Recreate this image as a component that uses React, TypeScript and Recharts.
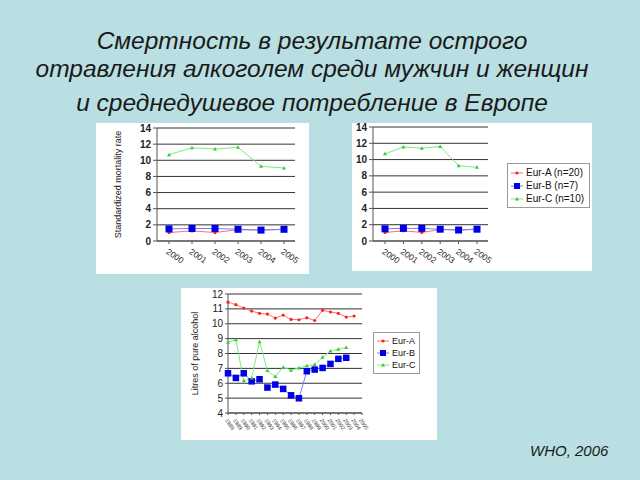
import { LineChart, Line, XAxis, YAxis, CartesianGrid, Legend } from 'recharts';

const BG = '#b9dfe3';
const FONT = '"Liberation Sans", Arial, sans-serif';

const titleLines = [
  'Смертность в результате острого',
  'отравления алкоголем среди мужчин и женщин',
  'и среднедушевое потребление в Европе',
];

const mortalityYears = ['2000', '2001', '2002', '2003', '2004', '2005'];
const mortalityEurA = [1.05, 1.25, 1.05, 1.4, 1.35, 1.45];
const mortalityEurB = [1.5, 1.55, 1.55, 1.45, 1.35, 1.45];
const mortalityEurC = [10.7, 11.55, 11.4, 11.6, 9.25, 9.05];
const mortalityTicks = [0, 2, 4, 6, 8, 10, 12, 14];

const alcoholYears = [
  '1988', '1989', '1990', '1991', '1992', '1993', '1994', '1995', '1996',
  '1997', '1998', '1999', '2000', '2001', '2002', '2003', '2004', '2005',
];
const alcoholEurA = [11.45, 11.28, 11.06, 10.85, 10.7, 10.65, 10.38, 10.58, 10.29, 10.27, 10.4, 10.22, 10.9, 10.79, 10.7, 10.45, 10.52, null];
const alcoholEurB = [6.67, 6.36, 6.67, 6.13, 6.27, 5.71, 5.91, 5.62, 5.19, 4.99, 6.81, 6.92, 7.03, 7.3, 7.64, 7.71, null, null];
const alcoholEurC = [8.76, 8.92, 6.16, 6.36, 8.79, 6.85, 6.45, 7.08, 6.88, 7.03, 7.17, 7.26, 7.75, 8.16, 8.29, 8.4, null, null];
const alcoholTicks = [4, 5, 6, 7, 8, 9, 10, 11, 12];

const mortalityData = mortalityYears.map((year, i) => ({
  year,
  a: mortalityEurA[i],
  b: mortalityEurB[i],
  c: mortalityEurC[i],
}));

const alcoholData = alcoholYears.map((year, i) => ({
  year,
  a: alcoholEurA[i],
  b: alcoholEurB[i],
  c: alcoholEurC[i],
}));

const RED = '#ff2020';
const RED_LINE = '#ff7070';
const BLUE = '#0000e6';
const BLUE_LINE = '#7a7aff';
const GREEN = '#33cc33';
const GREEN_LINE = '#80e880';

function dotA(props: any) {
  const { cx, cy, index } = props;
  if (cx == null || cy == null) return <g key={`a-${index}`} />;
  return <circle key={`a-${index}`} cx={cx} cy={cy} r={1.6} fill={RED} />;
}

function makeSquare(size: number) {
  return (props: any) => {
    const { cx, cy, index } = props;
    if (cx == null || cy == null) return <g key={`b-${index}`} />;
    return <rect key={`b-${index}`} x={cx - size / 2} y={cy - size / 2} width={size} height={size} fill={BLUE} />;
  };
}

function dotC(props: any) {
  const { cx, cy, index } = props;
  if (cx == null || cy == null) return <g key={`c-${index}`} />;
  return <polygon key={`c-${index}`} points={`${cx},${cy - 2} ${cx + 2},${cy + 1.5} ${cx - 2},${cy + 1.5}`} fill={GREEN} />;
}

const legendItems = [
  { color: RED_LINE, mark: RED, shape: 'dot' },
  { color: BLUE_LINE, mark: BLUE, shape: 'square' },
  { color: GREEN_LINE, mark: GREEN, shape: 'tri' },
];

function LegendBox({ names, fontSize, width, iconW }: { names: string[]; fontSize: number; width: number; iconW: number }) {
  return (
    <div
      style={{
        border: '1px solid #9a9a9a',
        background: '#fff',
        padding: '2px 3px',
        width,
        boxSizing: 'border-box',
        fontFamily: FONT,
        fontSize,
        color: '#111',
        whiteSpace: 'nowrap',
      }}
    >
      {names.map((name, i) => {
        const it = legendItems[i];
        const m = iconW / 2;
        return (
          <div key={name} style={{ display: 'flex', alignItems: 'center', height: fontSize + 3 }}>
            <svg width={iconW} height={8} style={{ marginRight: 3, flexShrink: 0 }}>
              <line x1={0} y1={4} x2={iconW} y2={4} stroke={it.color} strokeWidth={1} />
              {it.shape === 'dot' && <circle cx={m} cy={4} r={1.6} fill={it.mark} />}
              {it.shape === 'square' && <rect x={m - 3} y={1} width={6} height={6} fill={it.mark} />}
              {it.shape === 'tri' && <polygon points={`${m},2 ${m + 2},5.5 ${m - 2},5.5`} fill={it.mark} />}
            </svg>
            <span>{name}</span>
          </div>
        );
      })}
    </div>
  );
}

function MortalityChart({ withLegend }: { withLegend: boolean }) {
  const width = withLegend ? 240 : 213;
  const height = withLegend ? 148 : 151;
  return (
    <LineChart
      width={width}
      height={height}
      data={mortalityData}
      margin={withLegend ? { top: 4, right: 104, left: 0, bottom: 0 } : { top: 5, right: 14, left: 0, bottom: 0 }}
      style={{ fontFamily: FONT }}
    >
      <CartesianGrid horizontal vertical={false} stroke="#333" strokeWidth={1} />
      <XAxis
        dataKey="year"
        height={withLegend ? 30 : 33}
        padding={{ left: 12, right: 11 }}
        interval={0}
        axisLine={{ stroke: '#555' }}
        tickLine={{ stroke: '#555' }}
        tickSize={3}
        tick={{ angle: 35, textAnchor: 'start', fontSize: 8.5, fill: '#222', dy: 2 }}
      />
      <XAxis xAxisId="top" orientation="top" height={0} axisLine={{ stroke: withLegend ? '#333' : '#8080c0' }} tick={false} tickLine={false} />
      <YAxis
        domain={[0, 14]}
        ticks={mortalityTicks}
        interval={0}
        width={withLegend ? 21 : 61}
        axisLine={{ stroke: '#555' }}
        tickLine={{ stroke: '#555' }}
        tickSize={4}
        tick={{ fontSize: 10, fontWeight: 'bold', fill: '#222' }}
        label={
          withLegend
            ? undefined
            : { value: 'Standardized mortality rate', angle: -90, position: 'insideLeft', offset: 22, style: { fontSize: 9, fill: '#222', textAnchor: 'middle' } }
        }
      />
      {!withLegend && (
        <YAxis yAxisId="right" orientation="right" width={0} domain={[0, 14]} axisLine={{ stroke: '#8080c0' }} tick={false} tickLine={false} />
      )}
      <Line dataKey="a" name="Eur-A (n=20)" stroke={RED_LINE} strokeWidth={1} dot={dotA} activeDot={false} isAnimationActive={false} />
      <Line dataKey="b" name="Eur-B (n=7)" stroke={BLUE_LINE} strokeWidth={1} dot={makeSquare(7)} activeDot={false} isAnimationActive={false} />
      <Line dataKey="c" name="Eur-C (n=10)" stroke={GREEN_LINE} strokeWidth={1} dot={dotC} activeDot={false} isAnimationActive={false} />
      {withLegend && (
        <Legend
          layout="horizontal"
          verticalAlign="middle"
          align="center"
          wrapperStyle={{ left: 155, top: 40, width: 83 }}
          content={() => <LegendBox names={['Eur-A (n=20)', 'Eur-B (n=7)', 'Eur-C (n=10)']} fontSize={10} width={83} iconW={12} />}
        />
      )}
    </LineChart>
  );
}

function AlcoholChart() {
  return (
    <LineChart
      width={256}
      height={152}
      data={alcoholData}
      margin={{ top: 6, right: 75, left: 0, bottom: 0 }}
      style={{ fontFamily: FONT }}
    >
      <CartesianGrid horizontal vertical={false} stroke="#333" strokeWidth={1} />
      <XAxis
        dataKey="year"
        height={27}
        interval={0}
        axisLine={{ stroke: '#555' }}
        tickLine={{ stroke: '#555' }}
        tickSize={2}
        tick={{ angle: 55, textAnchor: 'start', fontSize: 5.5, fill: '#444', dy: 1 }}
      />
      <XAxis xAxisId="top" orientation="top" height={0} axisLine={{ stroke: '#8a8ac0' }} tick={false} tickLine={false} />
      <YAxis
        domain={[4, 12]}
        ticks={alcoholTicks}
        interval={0}
        width={47}
        axisLine={{ stroke: '#555' }}
        tickLine={{ stroke: '#555' }}
        tickSize={3}
        tick={{ fontSize: 10, fill: '#222' }}
        label={{ value: 'Litres of pure alcohol', angle: -90, position: 'insideLeft', offset: 14, style: { fontSize: 9, fill: '#222', textAnchor: 'middle' } }}
      />
      <YAxis yAxisId="right" orientation="right" width={0} domain={[4, 12]} axisLine={{ stroke: '#8a8ac0' }} tick={false} tickLine={false} />
      <Line dataKey="a" name="Eur-A" stroke={RED_LINE} strokeWidth={1} dot={dotA} activeDot={false} isAnimationActive={false} />
      <Line dataKey="b" name="Eur-B" stroke={BLUE_LINE} strokeWidth={1} dot={makeSquare(6.5)} activeDot={false} isAnimationActive={false} />
      <Line dataKey="c" name="Eur-C" stroke={GREEN_LINE} strokeWidth={1} dot={dotC} activeDot={false} isAnimationActive={false} />
      <Legend
        layout="horizontal"
        verticalAlign="middle"
        align="center"
        wrapperStyle={{ left: 192, top: 44, width: 47 }}
        content={() => <LegendBox names={['Eur-A', 'Eur-B', 'Eur-C']} fontSize={9} width={47} iconW={12} />}
      />
    </LineChart>
  );
}

const panel = (left: number, top: number, w: number, h: number): React.CSSProperties => ({
  position: 'absolute',
  left,
  top,
  width: w,
  height: h,
  background: '#fff',
});

export default function App() {
  const titleTops = [25, 53, 87];
  return (
    <div style={{ position: 'absolute', left: 0, top: 0, width: 640, height: 480, background: BG, overflow: 'hidden', fontFamily: FONT }}>
      {titleLines.map((line, i) => (
        <div
          key={line}
          style={{
            position: 'absolute',
            left: 0,
            top: titleTops[i],
            width: 624,
            textAlign: 'center',
            fontStyle: 'italic',
            fontSize: 24.5,
            lineHeight: '32px',
            color: '#1a1a1a',
            whiteSpace: 'nowrap',
          }}
        >
          {line}
        </div>
      ))}
      <div style={panel(96, 123, 213, 151)}>
        <MortalityChart withLegend={false} />
      </div>
      <div style={panel(352, 123, 240, 148)}>
        <MortalityChart withLegend />
      </div>
      <div style={panel(181, 288, 256, 152)}>
        <AlcoholChart />
      </div>
      <div
        style={{
          position: 'absolute',
          left: 530,
          top: 442,
          fontStyle: 'italic',
          fontSize: 15,
          color: '#1a1a1a',
        }}
      >
        WHO, 2006
      </div>
    </div>
  );
}
